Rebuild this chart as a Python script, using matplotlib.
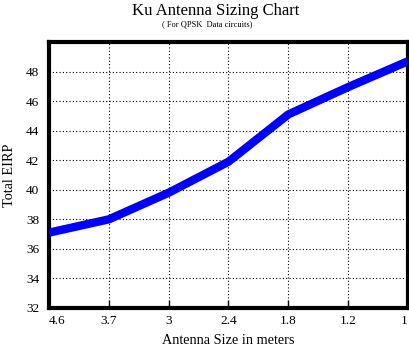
import matplotlib
matplotlib.use("Agg")
import matplotlib.pyplot as plt

sizes = ["4.6", "3.7", "3", "2.4", "1.8", "1.2", "1"]
eirp = [37.1, 38.0, 39.8, 41.9, 45.1, 46.95, 48.7]
yticks = [32, 34, 36, 38, 40, 42, 44, 46, 48]

plt.rcParams['font.family'] = ['Liberation Serif', 'DejaVu Serif']

fig = plt.figure(figsize=(4.10, 3.46), dpi=100)
ax = fig.add_axes([49/410, 1 - 308/346, (408-49)/410, (308-42)/346])

x = list(range(len(sizes)))
ax.plot(x, eirp, color=(0, 0, 1), linewidth=6, solid_capstyle='butt', zorder=3)

ax.set_xlim(0, len(sizes) - 1)
ax.set_ylim(32, 50)
ax.set_xticks(x)
ax.set_xticklabels(sizes, fontsize=9.5)
labels = ax.get_xticklabels()
labels[0].set_horizontalalignment('left')
labels[-1].set_horizontalalignment('right')
ax.set_yticks(yticks)
ax.set_yticklabels([str(v) for v in yticks], fontsize=9.5)
ax.grid(True, color='black', linestyle=(0, (1, 2)), linewidth=0.8)
ax.tick_params(axis='x', direction='in', length=6, width=1, pad=5)
ax.tick_params(axis='y', length=0, pad=7)
for s in ax.spines.values():
    s.set_linewidth(3)
    s.set_color('black')

ax.set_xlabel("Antenna Size in meters", fontsize=10.3, labelpad=5)
ax.set_ylabel("Total EIRP", fontsize=10.3, labelpad=7)

fig.text(216/410, 1 - 11/346, "Ku Antenna Sizing Chart", ha='center', va='center', fontsize=12)
fig.text(207/410, 1 - 24/346, "( For QPSK  Data circuits)", ha='center', va='center', fontsize=6)

fig.savefig("out.png", dpi=100)
